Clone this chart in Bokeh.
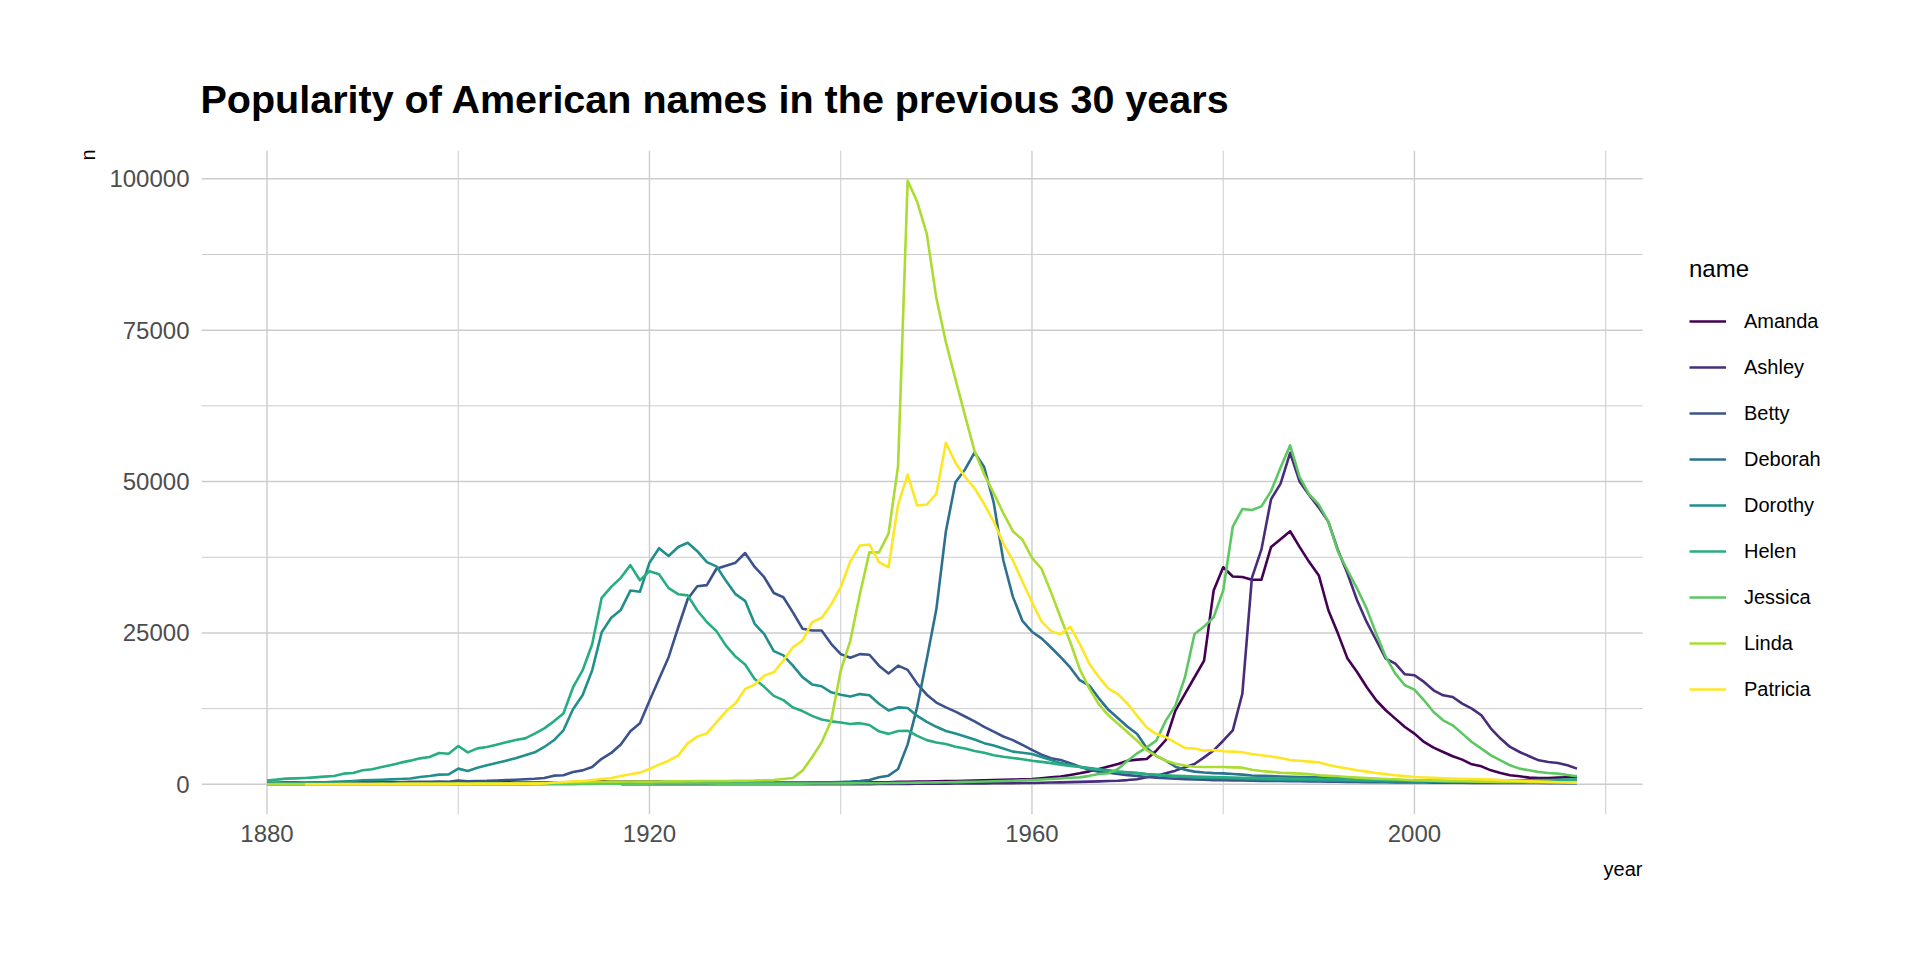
from bokeh.plotting import figure
from bokeh.models import Range1d, FixedTicker, BasicTickFormatter, Legend, LegendItem, Title
from bokeh.embed import file_html
from bokeh.resources import INLINE

# ---------------- data (female births per year) ----------------
names = ["Amanda", "Ashley", "Betty", "Deborah", "Dorothy", "Helen", "Jessica", "Linda", "Patricia"]
colors = ["#440154", "#472D7B", "#3B528B", "#2C728E", "#21908C", "#27AD81", "#5DC863", "#AADC32", "#FDE725"]
first_year = {"Amanda": 1880, "Ashley": 1917, "Betty": 1880, "Deborah": 1880, "Dorothy": 1880,
              "Helen": 1880, "Jessica": 1880, "Linda": 1880, "Patricia": 1884}
last_year = 2017

amanda = [241, 263, 288, 287, 268, 291, 312, 300, 356, 336,
          346, 318, 365, 340, 330, 355, 345, 320, 350, 310,
          400, 300, 330, 320, 310, 325, 300, 290, 310, 300,
          320, 310, 380, 390, 420, 480, 470, 460, 470, 440,
          470, 460, 430, 420, 410, 390, 360, 340, 330, 300,
          290, 270, 260, 250, 250, 250, 240, 240, 250, 260,
          280, 290, 320, 330, 320, 330, 400, 430, 450, 470,
          480, 520, 560, 600, 630, 650, 700, 740, 770, 820,
          880, 1010, 1150, 1270, 1540, 1820, 2140, 2530, 2950, 3360,
          3900, 4080, 4190, 5560, 7320, 12170, 14920, 17680, 20430, 32000,
          35850, 34330, 34230, 33790, 33810, 39180, 40480, 41800, 39180, 36700,
          34500, 28750, 24890, 20760, 18560, 16080, 13880, 12230, 10850, 9470,
          8370, 6990, 6060, 5340, 4630, 4080, 3300, 2970, 2310, 1870,
          1490, 1320, 1100, 1050, 1050, 1100, 1160, 1160]

ashley = [5, 6, 7,
          8, 9, 8, 10, 12, 11, 13, 14, 12, 15,
          14, 16, 15, 18, 17, 20, 19, 22, 24, 23,
          26, 28, 35, 38, 42, 46, 60, 75, 85, 95,
          110, 120, 130, 140, 150, 160, 170, 185, 200, 215,
          230, 260, 290, 320, 360, 400, 440, 480, 540, 600,
          700, 850, 1160, 1430, 1820, 2260, 2810, 3360, 4460, 5600,
          7200, 8900, 14950, 34100, 38800, 47050, 49650, 54750, 49950, 47750,
          45700, 43340, 38660, 34800, 30400, 26820, 23790, 20760, 19940, 18170,
          18010, 16910, 15530, 14700, 14430, 13330, 12500, 11400, 9200, 7550,
          6170, 5340, 4630, 3960, 3690, 3520, 3140, 2590]

betty = [117, 112, 123, 120, 144, 140, 166, 170, 220, 190,
         250, 240, 300, 300, 340, 360, 400, 410, 460, 420,
         620, 500, 560, 580, 640, 700, 760, 830, 920, 1050,
         1430, 1490, 2040, 2300, 2870, 4220, 5180, 6580, 8780, 10100,
         13800, 17400, 21000, 25900, 30600, 32700, 32900, 35600, 36100, 36600,
         38200, 35900, 34200, 31600, 30900, 28400, 25700, 25400, 25400, 23200,
         21500, 20900, 21500, 21400, 19600, 18300, 19600, 18900, 16600, 14800,
         13500, 12700, 12000, 11200, 10400, 9500, 8700, 7900, 7300, 6500,
         5700, 4900, 4300, 4000, 3500, 2900, 2400, 2100, 1900, 1700,
         1520, 1380, 1210, 1090, 1010, 920, 860, 800, 760, 700,
         680, 655, 620, 600, 575, 560, 545, 520, 500, 485,
         460, 445, 420, 400, 385, 360, 345, 330, 320, 310,
         300, 290, 280, 270, 262, 250, 246, 238, 232, 225,
         220, 214, 210, 207, 205, 200, 198, 195]

deborah = [12, 10, 14, 11, 15, 13, 16, 14, 18, 17,
           20, 18, 22, 19, 24, 22, 25, 26, 28, 27,
           30, 28, 32, 30, 35, 33, 38, 40, 42, 45,
           55, 60, 75, 85, 100, 115, 120, 130, 140, 150,
           160, 170, 175, 185, 190, 200, 205, 210, 215, 220,
           230, 240, 250, 265, 280, 300, 310, 330, 350, 340,
           380, 450, 560, 720, 1160, 1430, 2530, 6600, 12800, 20700,
           28900, 41800, 49900, 52000, 54800, 52400, 46500, 37000, 31000, 27000,
           25200, 24100, 22600, 21000, 19300, 17200, 16300, 14200, 12300, 10900,
           9500, 8300, 6000, 4700, 3900, 2900, 2400, 2100, 1950, 1850,
           1800, 1700, 1600, 1450, 1400, 1350, 1300, 1250, 1200, 1180,
           1150, 1050, 980, 920, 860, 800, 760, 720, 680, 640,
           600, 560, 520, 490, 460, 430, 400, 380, 350, 330,
           310, 290, 280, 270, 260, 250, 240, 230]

dorothy = [112, 150, 190, 220, 260, 300, 350, 400, 470, 560,
           660, 700, 760, 820, 880, 950, 1200, 1380, 1600, 1650,
           2590, 2200, 2750, 3140, 3520, 3910, 4300, 4790, 5290, 6170,
           7270, 8920, 12400, 14700, 18800, 25100, 27500, 28800, 32000, 31800,
           36600, 39000, 37700, 39200, 39900, 38500, 36700, 36000, 33600, 31400,
           30300, 26500, 24800, 22000, 21300, 19600, 17700, 16500, 16200, 15200,
           14800, 14500, 14900, 14700, 13300, 12200, 12700, 12600, 11300, 10300,
           9500, 8800, 8400, 7900, 7400, 6800, 6400, 5900, 5400, 5200,
           5000, 4500, 4000, 3500, 3200, 2900, 2700, 2500, 2300, 2100,
           2000, 1850, 1650, 1500, 1400, 1300, 1200, 1150, 1100, 1050,
           1000, 950, 900, 860, 820, 780, 740, 700, 680, 660,
           640, 610, 580, 560, 540, 520, 500, 480, 470, 460,
           450, 440, 430, 420, 410, 400, 400, 395, 390, 390,
           400, 410, 420, 430, 440, 450, 460, 470]

helen = [636, 770, 940, 980, 1050, 1150, 1270, 1380, 1760, 1870,
         2310, 2480, 2860, 3190, 3580, 3910, 4290, 4510, 5170, 5060,
         6330, 5280, 5940, 6160, 6550, 6930, 7320, 7590, 8360, 9240,
         10400, 11700, 16000, 18800, 23100, 30800, 32600, 34100, 36200, 33700,
         35200, 34700, 32400, 31400, 31200, 28700, 26800, 25300, 22900, 21100,
         19800, 17400, 16100, 14600, 13900, 12700, 12100, 11300, 10700, 10400,
         10200, 9950, 10100, 9800, 8750, 8330, 8800, 8850, 8000, 7300,
         6900, 6650, 6200, 5900, 5500, 5200, 4800, 4550, 4350, 4150,
         3900, 3700, 3500, 3250, 3050, 2850, 2600, 2400, 2200, 2050,
         1950, 1850, 1700, 1600, 1500, 1420, 1350, 1300, 1250, 1200,
         1150, 1120, 1080, 1050, 1000, 980, 950, 920, 900, 880,
         860, 830, 800, 770, 740, 700, 680, 650, 630, 610,
         600, 590, 580, 570, 560, 560, 570, 580, 600, 610,
         620, 640, 660, 690, 720, 750, 780, 800]

jessica = [7, 7, 8, 6, 14, 8, 15, 10, 12, 14,
           15, 12, 18, 14, 20, 18, 21, 16, 24, 20,
           28, 22, 25, 24, 26, 30, 28, 32, 34, 36,
           42, 45, 60, 68, 80, 95, 100, 105, 110, 115,
           120, 125, 130, 125, 128, 130, 125, 120, 118, 115,
           112, 110, 108, 110, 115, 118, 120, 125, 130, 135,
           150, 160, 175, 190, 200, 210, 240, 260, 280, 300,
           320, 340, 370, 400, 430, 460, 500, 540, 600, 650,
           720, 800, 880, 980, 1080, 1150, 1400, 1700, 1820, 2530,
           3900, 5120, 6110, 7210, 10520, 13000, 17680, 24840, 26050, 27590,
           32000, 42540, 45460, 45300, 45900, 48410, 52320, 55980, 50750, 47860,
           46200, 43340, 38450, 35350, 32330, 29020, 24890, 21040, 18280, 16360,
           15640, 13880, 11950, 10570, 9750, 8370, 6990, 5890, 4790, 3960,
           3140, 2590, 2310, 2040, 1870, 1760, 1540, 1320]

linda = [27, 38, 36, 49, 33, 60, 64, 57, 83, 74,
         90, 85, 110, 100, 120, 115, 130, 125, 140, 120,
         160, 130, 150, 160, 170, 180, 190, 200, 210, 230,
         260, 290, 330, 360, 400, 430, 440, 450, 460, 450,
         440, 460, 480, 490, 500, 520, 540, 550, 560, 580,
         600, 620, 680, 700, 880, 1050, 2260, 4460, 6900, 10500,
         18800, 23700, 31400, 38300, 38300, 41400, 52600, 99690, 96200, 90900,
         80300, 73000, 66900, 60900, 55000, 51200, 48100, 44800, 41800, 40400,
         37400, 35600, 31700, 27500, 23500, 19000, 15800, 13200, 11400, 10000,
         8600, 7200, 5600, 4700, 3900, 3400, 3100, 2900, 2850, 2850,
         2860, 2800, 2750, 2400, 2200, 2050, 1900, 1850, 1760, 1700,
         1490, 1400, 1320, 1200, 1100, 1020, 940, 880, 830, 750,
         660, 620, 580, 550, 520, 500, 470, 440, 420, 400,
         390, 380, 370, 360, 350, 340, 335, 330]

patricia = [6, 9, 8, 11, 12, 14,
            16, 15, 20, 22, 25, 24, 30, 28, 35, 33,
            45, 40, 50, 55, 62, 70, 80, 90, 110, 130,
            300, 390, 470, 550, 700, 880, 1050, 1380, 1650, 1930,
            2530, 3250, 3900, 4740, 6770, 7880, 8430, 10240, 12060, 13380,
            15750, 16470, 17950, 18500, 20430, 22630, 23740, 26760, 27480, 29680,
            32550, 36790, 39430, 39600, 36680, 35850, 46200, 51160, 46040, 46200,
            47970, 56400, 53100, 50800, 48900, 46300, 43400, 39800, 37000, 33500,
            30100, 26900, 25300, 24800, 26000, 23200, 19900, 17700, 15800, 14900,
            13300, 11300, 9400, 8300, 7800, 6900, 6000, 5900, 5560, 5670,
            5450, 5400, 5300, 5010, 4800, 4600, 4350, 4000, 3880, 3750,
            3630, 3200, 2860, 2600, 2310, 2100, 1870, 1680, 1490, 1350,
            1210, 1130, 1060, 990, 940, 900, 860, 810, 770, 700,
            640, 550, 500, 450, 400, 350, 310, 280]

values = {"Amanda": amanda, "Ashley": ashley, "Betty": betty, "Deborah": deborah,
          "Dorothy": dorothy, "Helen": helen, "Jessica": jessica, "Linda": linda,
          "Patricia": patricia}

x_major = [1880, 1920, 1960, 2000]
x_minor = [1900, 1940, 1980, 2020]
y_major = [0, 25000, 50000, 75000, 100000]
y_minor = [12500, 37500, 62500, 87500]

title_text = "Popularity of American names in the previous 30 years"
FONT = "Liberation Sans"

# ---------------- layout geometry ----------------
W, H = 1904, 944
LEFT, TOP, BOTTOM = 201, 150, 130
PANEL_W = 1441                      # width of the ggplot panel (grid area)
FRAME_W = W - LEFT                  # frame extends under the legend area

# ggplot-like 5% expansion of the data range
all_years = [first_year[n] for n in names] + [last_year]
ymax = max(max(v) for v in values.values())
xmin, xmax = min(all_years), last_year
xpad = (xmax - xmin) * 0.05
ypad = ymax * 0.05
x0, x1 = xmin - xpad, xmax + xpad
y0, y1 = -ypad, ymax + ypad
x_end = x0 + (x1 - x0) * FRAME_W / PANEL_W

p = figure(width=W, height=H, output_backend="svg", toolbar_location=None,
           x_range=Range1d(x0, x_end), y_range=Range1d(y0, y1),
           min_border_left=LEFT, min_border_right=0, min_border_top=TOP, min_border_bottom=BOTTOM)
p.outline_line_color = None
p.background_fill_color = "white"
p.border_fill_color = "white"
p.xgrid.grid_line_color = None
p.ygrid.grid_line_color = None

# panel grid (limited to the panel area, like ggplot)
p.segment(x0=x_major, y0=[y0] * len(x_major), x1=x_major, y1=[y1] * len(x_major),
          line_color="#cccccc", line_width=1.4)
p.segment(x0=x_minor, y0=[y0] * len(x_minor), x1=x_minor, y1=[y1] * len(x_minor),
          line_color="#cccccc", line_width=1.0)
p.segment(x0=[x0] * len(y_major), y0=y_major, x1=[x1] * len(y_major), y1=y_major,
          line_color="#cccccc", line_width=1.4)
p.segment(x0=[x0] * len(y_minor), y0=y_minor, x1=[x1] * len(y_minor), y1=y_minor,
          line_color="#cccccc", line_width=1.0)

renderers = []
for name, col in zip(names, colors):
    vals = values[name]
    yrs = list(range(first_year[name], last_year + 1))
    assert len(yrs) == len(vals), (name, len(yrs), len(vals))
    r = p.line(yrs, vals, line_color=col, line_width=2.6, line_join="round")
    renderers.append(r)

# axes
p.xaxis.ticker = FixedTicker(ticks=x_major, minor_ticks=x_minor)
p.yaxis.ticker = FixedTicker(ticks=y_major, minor_ticks=y_minor)
p.yaxis.formatter = BasicTickFormatter(use_scientific=False)
for ax in (p.xaxis, p.yaxis):
    ax.axis_line_color = None
    ax.major_tick_line_color = None
    ax.minor_tick_line_color = None
    ax.major_tick_out = 0
    ax.major_tick_in = 0
    ax.minor_tick_out = 0
    ax.major_label_text_font = FONT
    ax.major_label_text_font_size = "24px"
    ax.major_label_text_color = "#4D4D4D"
p.xaxis.major_label_standoff = 10
p.yaxis.major_label_standoff = 12

# title (above), axis titles at the ends of the axes
p.title.text = title_text
p.title.align = "left"
p.title.offset = -1
p.title.text_font = FONT
p.title.text_font_style = "bold"
p.title.text_font_size = "39.5px"
p.title.text_color = "black"
p.title.standoff = 60

p.add_layout(Title(text="year", align="right", offset=FRAME_W - PANEL_W, text_font=FONT,
                   text_font_size="20px", text_font_style="normal", text_color="black",
                   standoff=22), "below")
p.add_layout(Title(text="n", align="right", offset=-1, text_font=FONT, text_font_size="20px",
                   text_font_style="normal", text_color="black", standoff=15), "left")

legend = Legend(items=[LegendItem(label=n, renderers=[r]) for n, r in zip(names, renderers)],
                location=(1488, 110), title="name",
                title_text_font=FONT, title_text_font_size="24px", title_text_color="black",
                title_text_font_style="normal", title_standoff=23,
                label_text_font=FONT, label_text_font_size="20px", label_text_color="black",
                glyph_width=37, glyph_height=30, label_height=30, label_standoff=18, spacing=16,
                padding=0, margin=0, border_line_color=None, background_fill_alpha=0)
p.add_layout(legend)

open("out.html", "w").write(file_html(p, INLINE))
